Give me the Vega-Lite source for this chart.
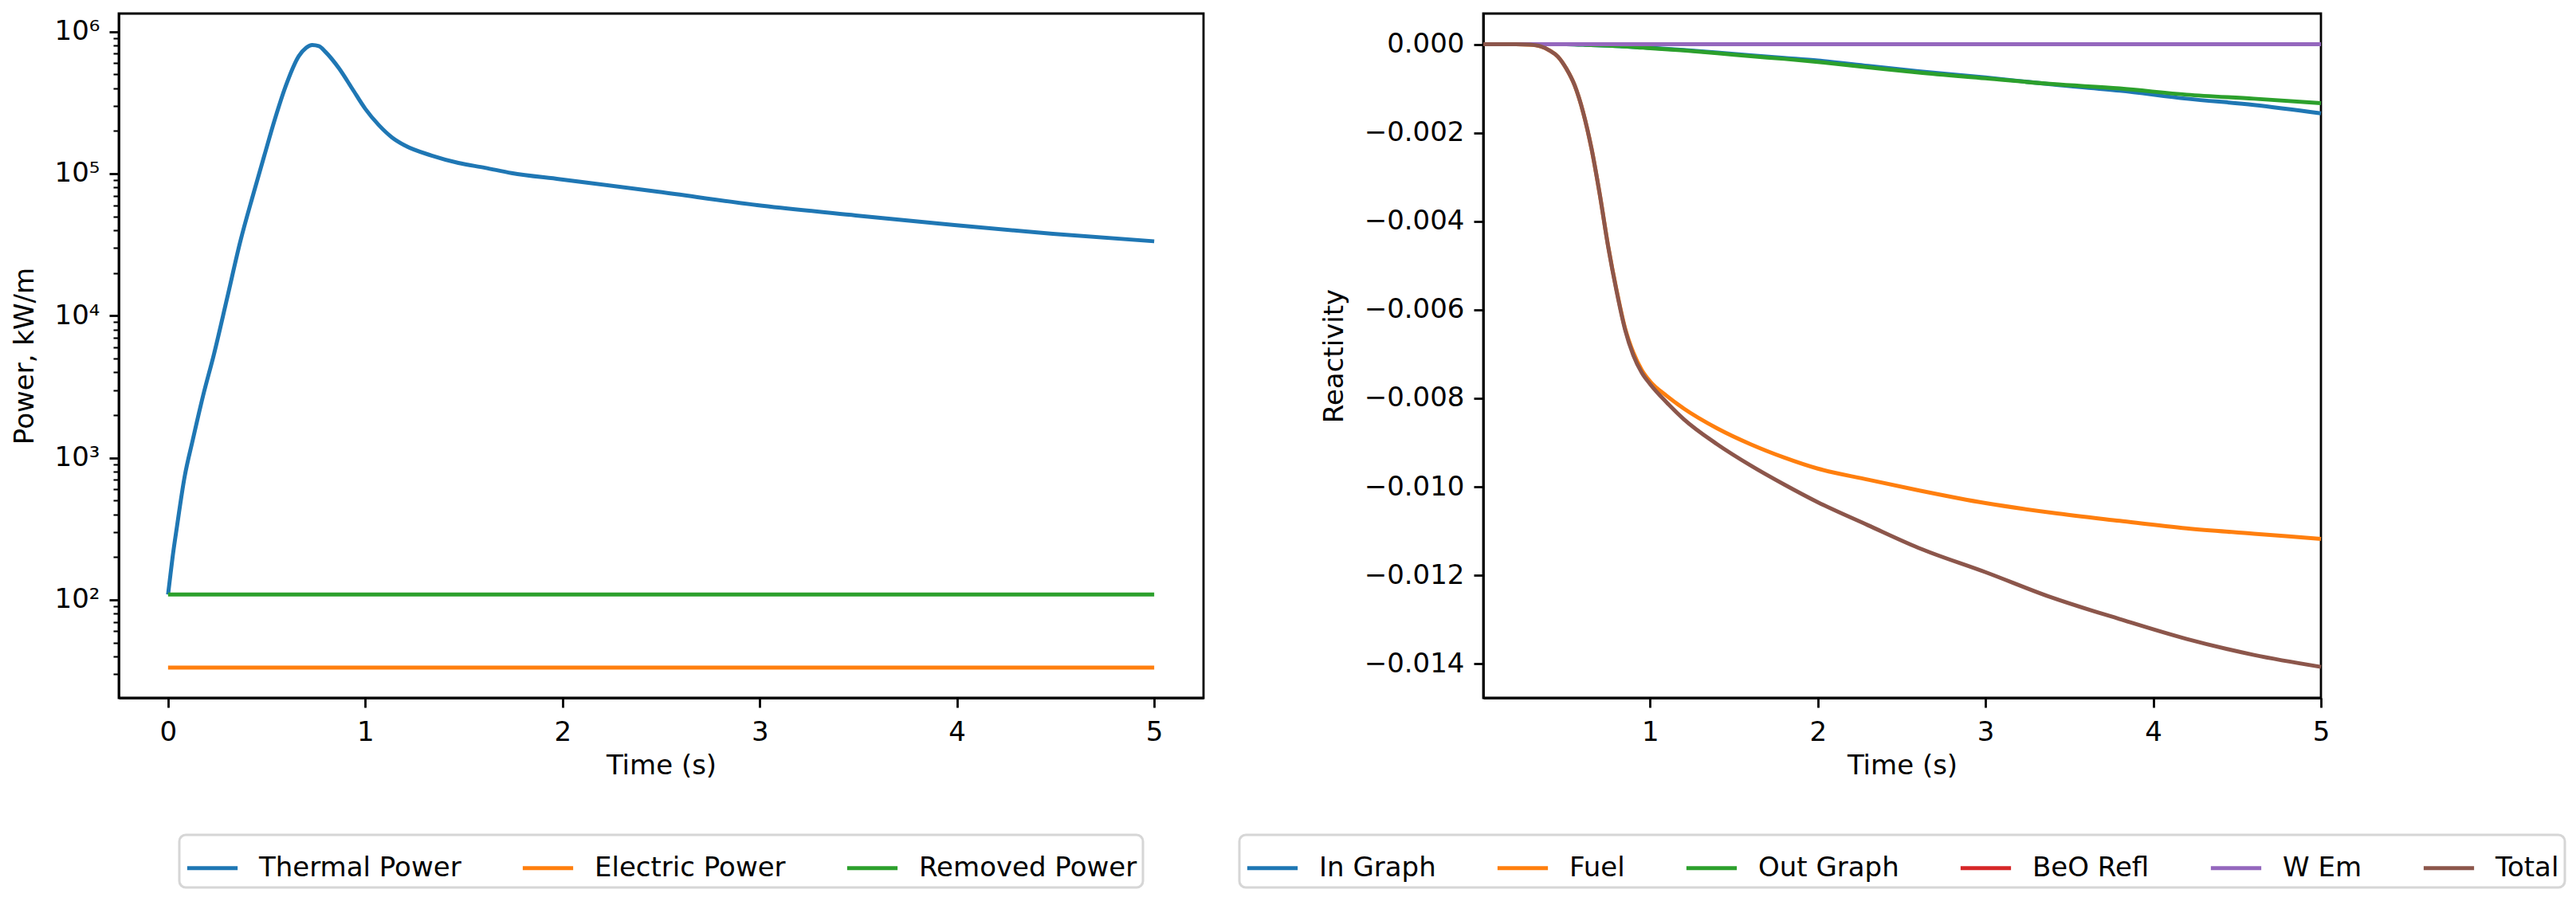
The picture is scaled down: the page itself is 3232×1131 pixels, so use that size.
{
  "$schema": "https://vega.github.io/schema/vega-lite/v6.json",
  "background": "white",
  "padding": {"left": 12, "top": 15, "right": 0, "bottom": 0},
  "config": {
    "font": "DejaVu Sans",
    "view": {"stroke": "black", "strokeWidth": 2.8},
    "concat": {"spacing": 351},
    "axis": {
      "labelFont": "DejaVu Sans",
      "titleFont": "DejaVu Sans",
      "labelFontSize": 34,
      "titleFontSize": 34,
      "titleFontWeight": "normal",
      "labelColor": "black",
      "titleColor": "black",
      "domainColor": "black",
      "domainWidth": 2.8,
      "tickColor": "black",
      "tickWidth": 2.8,
      "tickSize": 12,
      "labelPadding": 12,
      "grid": false,
      "labelFlush": false,
      "labelOverlap": false
    },
    "axisX": {"titlePadding": 8, "labelPadding": 14},
    "axisY": {"titlePadding": 20},
    "legend": {
      "orient": "bottom",
      "direction": "horizontal",
      "title": null,
      "labelFont": "DejaVu Sans",
      "labelFontSize": 34,
      "labelColor": "black",
      "labelLimit": 0,
      "symbolType": "stroke",
      "symbolStrokeWidth": 5,
      "symbolSize": 4000,
      "strokeColor": "#d6d6d6",
      "strokeWidth": 3,
      "cornerRadius": 8,
      "fillColor": "white",
      "padding": 7,
      "columnPadding": 66,
      "labelOffset": 24,
      "offset": 70,
      "layout": {"bottom": {"anchor": "middle"}}
    }
  },
  "datasets": {
    "power": [
      {"t": 0, "series": "Thermal Power", "p": 109},
      {"t": 0.012, "series": "Thermal Power", "p": 150},
      {"t": 0.023, "series": "Thermal Power", "p": 200},
      {"t": 0.044, "series": "Thermal Power", "p": 320},
      {"t": 0.084, "series": "Thermal Power", "p": 736},
      {"t": 0.125, "series": "Thermal Power", "p": 1330},
      {"t": 0.178, "series": "Thermal Power", "p": 2750},
      {"t": 0.232, "series": "Thermal Power", "p": 5310},
      {"t": 0.3, "series": "Thermal Power", "p": 13400},
      {"t": 0.367, "series": "Thermal Power", "p": 33600},
      {"t": 0.435, "series": "Thermal Power", "p": 74000},
      {"t": 0.488, "series": "Thermal Power", "p": 134000},
      {"t": 0.542, "series": "Thermal Power", "p": 243000},
      {"t": 0.596, "series": "Thermal Power", "p": 412000},
      {"t": 0.663, "series": "Thermal Power", "p": 673000},
      {"t": 0.7, "series": "Thermal Power", "p": 770000},
      {"t": 0.731, "series": "Thermal Power", "p": 805000},
      {"t": 0.765, "series": "Thermal Power", "p": 790000},
      {"t": 0.798, "series": "Thermal Power", "p": 720000},
      {"t": 0.866, "series": "Thermal Power", "p": 553000},
      {"t": 0.933, "series": "Thermal Power", "p": 398000},
      {"t": 1.0, "series": "Thermal Power", "p": 286000},
      {"t": 1.068, "series": "Thermal Power", "p": 220000},
      {"t": 1.135, "series": "Thermal Power", "p": 180000},
      {"t": 1.2, "series": "Thermal Power", "p": 158000},
      {"t": 1.337, "series": "Thermal Power", "p": 134000},
      {"t": 1.472, "series": "Thermal Power", "p": 119000},
      {"t": 1.607, "series": "Thermal Power", "p": 110000},
      {"t": 1.741, "series": "Thermal Power", "p": 101000},
      {"t": 1.987, "series": "Thermal Power", "p": 91400},
      {"t": 2.487, "series": "Thermal Power", "p": 74500},
      {"t": 2.987, "series": "Thermal Power", "p": 60100},
      {"t": 3.487, "series": "Thermal Power", "p": 50800},
      {"t": 3.987, "series": "Thermal Power", "p": 43400},
      {"t": 4.486, "series": "Thermal Power", "p": 37700},
      {"t": 5.0, "series": "Thermal Power", "p": 33400},
      {"t": 0, "series": "Electric Power", "p": 33.3},
      {"t": 5.0, "series": "Electric Power", "p": 33.3},
      {"t": 0, "series": "Removed Power", "p": 109},
      {"t": 5.0, "series": "Removed Power", "p": 109}
    ],
    "react": [
      {"t": 0.005, "series": "In Graph", "r": 0},
      {"t": 0.5, "series": "In Graph", "r": 0},
      {"t": 0.6, "series": "In Graph", "r": -0.00001},
      {"t": 0.75, "series": "In Graph", "r": -0.00003},
      {"t": 0.9, "series": "In Graph", "r": -0.00006},
      {"t": 1.0, "series": "In Graph", "r": -0.00008},
      {"t": 1.2, "series": "In Graph", "r": -0.00013},
      {"t": 1.4, "series": "In Graph", "r": -0.00019},
      {"t": 1.6, "series": "In Graph", "r": -0.00025},
      {"t": 1.8, "series": "In Graph", "r": -0.00031},
      {"t": 2.0, "series": "In Graph", "r": -0.00037},
      {"t": 2.3, "series": "In Graph", "r": -0.00049},
      {"t": 2.6, "series": "In Graph", "r": -0.00061},
      {"t": 3.0, "series": "In Graph", "r": -0.00075},
      {"t": 3.4, "series": "In Graph", "r": -0.00091},
      {"t": 3.8, "series": "In Graph", "r": -0.00105},
      {"t": 4.2, "series": "In Graph", "r": -0.00123},
      {"t": 4.6, "series": "In Graph", "r": -0.00137},
      {"t": 5.0, "series": "In Graph", "r": -0.00156},
      {"t": 0.005, "series": "Fuel", "r": 0},
      {"t": 0.2, "series": "Fuel", "r": 0},
      {"t": 0.28, "series": "Fuel", "r": -0.00001},
      {"t": 0.35, "series": "Fuel", "r": -0.00005},
      {"t": 0.4, "series": "Fuel", "r": -0.00014},
      {"t": 0.45, "series": "Fuel", "r": -0.00028},
      {"t": 0.5, "series": "Fuel", "r": -0.00055},
      {"t": 0.55, "series": "Fuel", "r": -0.00093},
      {"t": 0.6, "series": "Fuel", "r": -0.00153},
      {"t": 0.65, "series": "Fuel", "r": -0.00235},
      {"t": 0.7, "series": "Fuel", "r": -0.0034},
      {"t": 0.75, "series": "Fuel", "r": -0.00457},
      {"t": 0.8, "series": "Fuel", "r": -0.00556},
      {"t": 0.85, "series": "Fuel", "r": -0.00641},
      {"t": 0.9, "series": "Fuel", "r": -0.00697},
      {"t": 0.95, "series": "Fuel", "r": -0.00736},
      {"t": 1.0, "series": "Fuel", "r": -0.00762},
      {"t": 1.1, "series": "Fuel", "r": -0.00795},
      {"t": 1.2, "series": "Fuel", "r": -0.00823},
      {"t": 1.4, "series": "Fuel", "r": -0.00868},
      {"t": 1.6, "series": "Fuel", "r": -0.00904},
      {"t": 1.8, "series": "Fuel", "r": -0.00934},
      {"t": 2.0, "series": "Fuel", "r": -0.00959},
      {"t": 2.3, "series": "Fuel", "r": -0.00984},
      {"t": 2.6, "series": "Fuel", "r": -0.01008},
      {"t": 3.0, "series": "Fuel", "r": -0.01037},
      {"t": 3.4, "series": "Fuel", "r": -0.01059},
      {"t": 3.8, "series": "Fuel", "r": -0.01077},
      {"t": 4.2, "series": "Fuel", "r": -0.01094},
      {"t": 4.6, "series": "Fuel", "r": -0.01106},
      {"t": 5.0, "series": "Fuel", "r": -0.01118},
      {"t": 0.005, "series": "Out Graph", "r": 0},
      {"t": 0.5, "series": "Out Graph", "r": 0},
      {"t": 0.6, "series": "Out Graph", "r": -0.00001},
      {"t": 0.75, "series": "Out Graph", "r": -0.00003},
      {"t": 0.9, "series": "Out Graph", "r": -0.00006},
      {"t": 1.0, "series": "Out Graph", "r": -0.00009},
      {"t": 1.2, "series": "Out Graph", "r": -0.00014},
      {"t": 1.4, "series": "Out Graph", "r": -0.0002},
      {"t": 1.6, "series": "Out Graph", "r": -0.00027},
      {"t": 1.8, "series": "Out Graph", "r": -0.00033},
      {"t": 2.0, "series": "Out Graph", "r": -0.0004},
      {"t": 2.3, "series": "Out Graph", "r": -0.00052},
      {"t": 2.6, "series": "Out Graph", "r": -0.00064},
      {"t": 3.0, "series": "Out Graph", "r": -0.00077},
      {"t": 3.4, "series": "Out Graph", "r": -0.0009},
      {"t": 3.8, "series": "Out Graph", "r": -0.001},
      {"t": 4.2, "series": "Out Graph", "r": -0.00114},
      {"t": 4.6, "series": "Out Graph", "r": -0.00123},
      {"t": 5.0, "series": "Out Graph", "r": -0.00133},
      {"t": 0.005, "series": "BeO Refl", "r": 0},
      {"t": 5.0, "series": "BeO Refl", "r": 0},
      {"t": 0.005, "series": "W Em", "r": 0},
      {"t": 5.0, "series": "W Em", "r": 0},
      {"t": 0.005, "series": "Total", "r": 0},
      {"t": 0.2, "series": "Total", "r": 0},
      {"t": 0.28, "series": "Total", "r": -0.00001},
      {"t": 0.35, "series": "Total", "r": -0.00005},
      {"t": 0.4, "series": "Total", "r": -0.00014},
      {"t": 0.45, "series": "Total", "r": -0.00028},
      {"t": 0.5, "series": "Total", "r": -0.00055},
      {"t": 0.55, "series": "Total", "r": -0.00093},
      {"t": 0.6, "series": "Total", "r": -0.00153},
      {"t": 0.65, "series": "Total", "r": -0.00235},
      {"t": 0.7, "series": "Total", "r": -0.0034},
      {"t": 0.75, "series": "Total", "r": -0.00458},
      {"t": 0.8, "series": "Total", "r": -0.00558},
      {"t": 0.85, "series": "Total", "r": -0.00644},
      {"t": 0.9, "series": "Total", "r": -0.00703},
      {"t": 0.95, "series": "Total", "r": -0.00742},
      {"t": 1.0, "series": "Total", "r": -0.00768},
      {"t": 1.1, "series": "Total", "r": -0.0081},
      {"t": 1.2, "series": "Total", "r": -0.00847},
      {"t": 1.4, "series": "Total", "r": -0.00904},
      {"t": 1.6, "series": "Total", "r": -0.00952},
      {"t": 1.8, "series": "Total", "r": -0.00995},
      {"t": 2.0, "series": "Total", "r": -0.01035},
      {"t": 2.3, "series": "Total", "r": -0.01087},
      {"t": 2.6, "series": "Total", "r": -0.01138},
      {"t": 3.0, "series": "Total", "r": -0.01193},
      {"t": 3.4, "series": "Total", "r": -0.01251},
      {"t": 3.8, "series": "Total", "r": -0.01299},
      {"t": 4.2, "series": "Total", "r": -0.01344},
      {"t": 4.6, "series": "Total", "r": -0.01380},
      {"t": 5.0, "series": "Total", "r": -0.01407}
    ]
  },
  "bounds": "flush",
  "resolve": {"scale": {"color": "independent"}, "legend": {"color": "independent"}},
  "hconcat": [
    {
      "width": 1361,
      "height": 859,
      "data": {"name": "power"},
      "resolve": {"axis": {"y": "independent"}},
      "encoding": {
        "x": {
          "field": "t", "type": "quantitative",
          "scale": {"domain": [-0.25, 5.25], "nice": false, "zero": false},
          "axis": {"values": [0, 1, 2, 3, 4, 5], "format": "d", "title": "Time (s)"}
        }
      },
      "layer": [
        {
          "mark": {"type": "line", "interpolate": "monotone", "strokeWidth": 5},
          "encoding": {
            "y": {
              "field": "p", "type": "quantitative",
              "scale": {"type": "log", "domain": [20.4, 1340000], "nice": false},
              "axis": {
                "values": [100, 1000, 10000, 100000, 1000000],
                "labelExpr": "'10' + ['⁰','¹','²','³','⁴','⁵','⁶'][round(log(datum.value) / LN10)]",
                "title": "Power, kW/m"
              }
            },
            "color": {
              "field": "series", "type": "nominal",
              "scale": {
                "domain": ["Thermal Power", "Electric Power", "Removed Power"],
                "range": ["#1f77b4", "#ff7f0e", "#2ca02c"]
              }
            }
          }
        },
        {
          "mark": {"type": "line", "opacity": 0},
          "encoding": {
            "y": {
              "field": "p", "type": "quantitative",
              "axis": {
                "orient": "left",
                "values": [30, 40, 50, 60, 70, 80, 90, 200, 300, 400, 500, 600, 700, 800, 900, 2000, 3000, 4000, 5000, 6000, 7000, 8000, 9000, 20000, 30000, 40000, 50000, 60000, 70000, 80000, 90000, 200000, 300000, 400000, 500000, 600000, 700000, 800000, 900000],
                "labels": false,
                "domain": false,
                "tickSize": 7,
                "tickWidth": 2.1,
                "title": null
              }
            }
          }
        }
      ]
    },
    {
      "width": 1051,
      "height": 859,
      "data": {"name": "react"},
      "mark": {"type": "line", "interpolate": "monotone", "strokeWidth": 5},
      "encoding": {
        "x": {
          "field": "t", "type": "quantitative",
          "scale": {"domain": [0.005, 5], "nice": false, "zero": false},
          "axis": {"values": [1, 2, 3, 4, 5], "format": "d", "title": "Time (s)"}
        },
        "y": {
          "field": "r", "type": "quantitative",
          "scale": {"domain": [-0.01477, 0.000694], "nice": false, "zero": false},
          "axis": {
            "values": [-0.014, -0.012, -0.01, -0.008, -0.006, -0.004, -0.002, 0],
            "format": ".3f",
            "title": "Reactivity"
          }
        },
        "color": {
          "field": "series", "type": "nominal",
          "scale": {
            "domain": ["In Graph", "Fuel", "Out Graph", "BeO Refl", "W Em", "Total"],
            "range": ["#1f77b4", "#ff7f0e", "#2ca02c", "#d62728", "#9467bd", "#8c564b"]
          }
        }
      }
    }
  ]
}
